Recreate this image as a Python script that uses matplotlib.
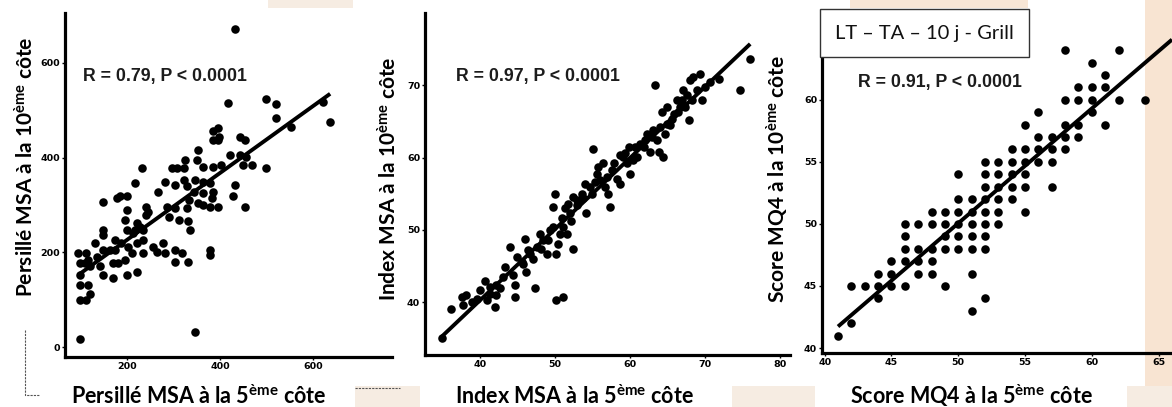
import numpy as np
import matplotlib
matplotlib.use('Agg')
import matplotlib.pyplot as plt
from matplotlib.patches import Rectangle
from matplotlib.lines import Line2D

plt.rcParams['font.family'] = ['Lato', 'DejaVu Sans']
plt.rcParams['mathtext.fontset'] = 'custom'
plt.rcParams['mathtext.rm'] = 'Lato'
plt.rcParams['mathtext.bf'] = 'Lato:bold'
plt.rcParams['mathtext.it'] = 'Lato:italic'

# ---------------- data ----------------
# Panel 1 : Persillé MSA
x1 = [432, 418, 500, 520, 520, 553, 622, 637, 396, 385, 396, 385, 399, 443, 454, 422, 443, 457, 470, 449,
      500, 403, 385, 353, 350, 364, 325, 322, 308, 297, 283, 303, 322, 329, 347, 364, 379, 364, 385, 344,
      334, 352, 364, 379, 396, 382, 432, 429, 454, 303, 286, 330, 290, 312, 331, 335, 246, 267, 232, 217,
      200, 185, 200, 196, 178, 149, 242, 242, 221, 200, 217, 235, 235, 221, 203, 210, 174, 188, 174, 149,
      149, 131, 113, 95, 99, 117, 135, 149, 163, 142, 120, 110, 171, 181, 196, 200, 171, 149, 221, 99,
      99, 117, 99, 113, 120, 99, 346, 278, 281, 303, 303, 318, 331, 379, 379, 264, 257, 235, 228, 214]
y1 = [671, 515, 523, 513, 483, 465, 518, 474, 462, 455, 437, 437, 444, 444, 437, 406, 406, 402, 385, 385,
      377, 385, 381, 416, 395, 381, 395, 377, 377, 377, 349, 342, 353, 339, 353, 349, 346, 325, 328, 328,
      311, 304, 300, 296, 296, 314, 342, 318, 296, 293, 296, 293, 275, 268, 265, 247, 286, 328, 377, 346,
      318, 318, 289, 268, 314, 307, 296, 279, 261, 247, 247, 247, 226, 219, 212, 198, 226, 219, 205, 247,
      237, 219, 198, 198, 177, 184, 191, 205, 205, 170, 170, 177, 177, 177, 184, 152, 145, 152, 159, 152,
      131, 131, 99, 99, 113, 18, 32, 219, 198, 205, 180, 198, 180, 205, 194, 201, 212, 198, 254, 240]

# Panel 2 : Index MSA
x2 = [35.0, 36.2, 37.6, 38.2, 37.8, 38.9, 39.6, 40.0, 40.7, 40.9, 41.3, 42.0, 42.2, 42.7, 43.3, 44.4, 44.7,
      44.7, 44.9, 44.0, 45.6, 46.0, 46.2, 47.3, 46.7, 47.6, 48.0, 48.4, 48.9, 49.8, 49.8, 50.0, 50.2, 51.1,
      50.4, 50.7, 50.9, 51.3, 52.0, 51.6, 52.4, 52.4, 52.9, 53.8, 54.0, 54.2, 54.9, 55.1, 55.6, 56.0, 56.4,
      56.7, 57.3, 57.1, 57.6, 58.2, 58.7, 59.1, 59.3, 59.8, 60.0, 60.4, 60.7, 61.8, 62.2, 62.7, 63.1, 63.3,
      63.6, 63.8, 64.2, 64.4, 64.7, 64.9, 65.3, 65.8, 66.2, 66.7, 67.1, 67.3, 67.8, 68.0, 68.2, 68.4, 69.3,
      69.6, 70.7, 71.8, 74.6, 76.0,
      41.3, 42.2, 43.1, 45.8, 46.4, 47.1, 48.2, 49.1, 49.3, 50.2, 51.1, 51.8, 52.2, 52.9, 53.6, 54.7, 55.3,
      55.8, 56.9, 57.8, 58.7, 59.6, 60.9, 61.3, 62.0, 62.9, 64.0, 64.9, 65.6, 66.4, 66.9, 67.6, 68.9, 70.0]
y2 = [35.0, 39.1, 40.7, 41.0, 39.6, 40.0, 40.5, 41.7, 43.0, 40.3, 41.2, 39.4, 41.0, 41.9, 44.9, 43.7, 42.4,
      40.7, 46.3, 47.6, 45.6, 48.8, 44.2, 41.9, 46.7, 47.6, 49.5, 48.6, 46.7, 53.2, 50.4, 55.0, 40.3, 40.7,
      48.1, 49.5, 51.6, 53.0, 52.3, 49.5, 47.4, 54.6, 53.5, 54.4, 56.4, 52.3, 55.0, 61.2, 57.8, 56.9, 59.2,
      55.9, 53.2, 55.0, 58.3, 57.1, 56.4, 60.1, 60.6, 61.5, 57.8, 59.7, 61.5, 61.5, 63.3, 60.8, 63.8, 70.0,
      62.4, 60.8, 66.3, 60.1, 63.3, 67.0, 64.5, 66.1, 67.9, 67.0, 69.3, 67.0, 65.2, 70.7, 67.9, 71.2, 71.6,
      67.9, 70.5, 70.9, 69.4, 73.7,
      42.1, 42.4, 43.5, 45.3, 47.2, 46.0, 47.4, 48.6, 50.0, 46.7, 50.4, 53.6, 51.3, 54.1, 55.0, 55.9, 56.6,
      58.7, 57.3, 59.2, 60.3, 59.2, 60.1, 61.9, 62.4, 62.9, 64.2, 64.7, 65.4, 66.3, 67.9, 68.6, 69.3, 69.8]

# Panel 3 : Score MQ4 (integer grid)
y3_levels = [64, 63, 62, 61, 60, 59, 58, 57, 56, 55, 54, 53, 52, 51, 50, 49, 48, 47, 46, 45, 44, 43, 42, 41]
x3_by_level = [[58, 62], [60], [61], [59, 60, 61], [58, 59, 60, 62, 64], [56, 60], [55, 58, 59, 61],
               [56, 57, 58, 59], [54, 55, 56, 57, 58], [52, 53, 54, 55, 56, 57], [50, 52, 53, 54, 55],
               [52, 53, 54, 55, 57], [50, 51, 52, 53, 54], [48, 49, 50, 51, 52, 53, 55],
               [46, 47, 48, 49, 50, 51, 52, 53], [46, 49, 50, 51, 52], [46, 47, 48, 49, 50, 51, 52],
               [45, 46, 47, 48], [44, 45, 47, 48, 51], [42, 43, 44, 45, 46, 49], [44, 52], [51], [42], [41]]
x3 = [v for lvl, xs in zip(y3_levels, x3_by_level) for v in xs]
y3 = [lvl for lvl, xs in zip(y3_levels, x3_by_level) for v in xs]

xticks1, yticks1 = [200, 400, 600], [0, 200, 400, 600]
xticks2, yticks2 = [40, 50, 60, 70, 80], [40, 50, 60, 70]
xticks3, yticks3 = [40, 45, 50, 55, 60, 65], [40, 45, 50, 55, 60]

stats = ["R = 0.79, P < 0.0001", "R = 0.97, P < 0.0001", "R = 0.91, P < 0.0001"]
ylabels = ["Persillé MSA à la 10$^{\\mathbf{ème}}$ côte",
           "Index MSA à la 10$^{\\mathbf{ème}}$ côte",
           "Score MQ4 à la 10$^{\\mathbf{ème}}$ côte"]
xlabels = ["Persillé MSA à la 5$^{\\mathbf{ème}}$ côte",
           "Index MSA à la 5$^{\\mathbf{ème}}$ côte",
           "Score MQ4 à la 5$^{\\mathbf{ème}}$ côte"]
box_title = "LT – TA – 10 j - Grill"

# ---------------- figure ----------------
W, H = 1172, 407
fig = plt.figure(figsize=(W / 100, H / 100), dpi=100, facecolor='white')


def rect_px(x0, y0, x1, y1):
    return [x0 / W, 1 - y1 / H, (x1 - x0) / W, (y1 - y0) / H]


# decorative slide background patches
peach = '#f6ece2'
for (a, b, c, d, col) in [(268, 0, 353, 8, peach), (850, 0, 1028, 8, '#f7e6d6'),
                          (1145, 0, 1172, 407, '#f8e4d2'), (355, 386, 420, 407, peach),
                          (732, 386, 815, 407, peach), (1127, 386, 1172, 407, peach)]:
    r = rect_px(a, b, c, d)
    fig.patches.append(Rectangle((r[0], r[1]), r[2], r[3], transform=fig.transFigure,
                                 facecolor=col, edgecolor='none', zorder=-5))

axes_px = [(65, 13, 392, 357), (425, 13, 790, 355), (822, 13, 1172, 353)]
lims = [((67, 770), (-21, 705)), ((32.7, 81.3), (32.7, 80.0)), ((39.8, 66.0), (39.6, 67.0))]
datasets = [(x1, y1), (x2, y2), (x3, y3)]
ticks = [(xticks1, yticks1), (xticks2, yticks2), (xticks3, yticks3)]
line_right = [None, None, 66.0]

for i in range(3):
    ax = fig.add_axes(rect_px(*axes_px[i]))
    ax.set_facecolor('none')
    x = np.array(datasets[i][0], float)
    y = np.array(datasets[i][1], float)
    ax.scatter(x, y, s=38, c='black', linewidths=0, zorder=3)
    k, b = np.polyfit(x, y, 1)
    xr = np.array([x.min(), x.max() if line_right[i] is None else line_right[i]])
    ax.plot(xr, k * xr + b, color='black', lw=2.8, zorder=4, solid_capstyle='butt')
    ax.set_xlim(*lims[i][0])
    ax.set_ylim(*lims[i][1])
    ax.set_xticks(ticks[i][0])
    ax.set_yticks(ticks[i][1])
    ax.tick_params(length=2, width=1, pad=1.5, labelsize=6.8)
    for lab in ax.get_xticklabels() + ax.get_yticklabels():
        lab.set_fontweight('bold')
        lab.set_family('DejaVu Sans')
    for s in ['top', 'right']:
        ax.spines[s].set_visible(False)
    for s in ['left', 'bottom']:
        ax.spines[s].set_linewidth(2.3)
        ax.spines[s].set_color('black')

# stats texts
for (cx, cy), t in zip([(165, 76), (538, 77), (940, 82)], stats):
    fig.text(cx / W, 1 - cy / H, t, ha='center', va='center', fontsize=12.8,
             fontweight='bold', family='Liberation Sans', color='#1c1c1c')

# y labels
for (cx, cy), t in zip([(26, 167), (389, 179), (778, 179)], ylabels):
    fig.text(cx / W, 1 - cy / H, t, rotation=90, ha='center', va='center',
             fontsize=15, fontweight='bold', color='black')

# x labels
for cx, t in zip([199, 575, 971], xlabels):
    fig.text(cx / W, 1 - 404 / H, t, ha='center', va='baseline',
             fontsize=15.5, fontweight='bold', color='black')

# title box
r = rect_px(820, 9, 1029, 57)
fig.patches.append(Rectangle((r[0], r[1]), r[2], r[3], transform=fig.transFigure,
                             facecolor='white', edgecolor='#333333', lw=1.0, zorder=10))
fig.text(924 / W, 1 - 33 / H, box_title, ha='center', va='center', fontsize=14.5,
         color='#111111', zorder=11)

# dashed guide lines (slide artefacts)
fig.add_artist(Line2D([25 / W, 25 / W, 40 / W], [1 - 330 / H, 1 - 395 / H, 1 - 395 / H],
                      transform=fig.transFigure, color='#555555', lw=0.8, ls=(0, (2, 1))))
fig.add_artist(Line2D([355 / W, 400 / W], [1 - 388 / H, 1 - 388 / H],
                      transform=fig.transFigure, color='#555555', lw=0.8, ls=(0, (2, 1))))

fig.savefig('out.png', dpi=100, facecolor='white')
